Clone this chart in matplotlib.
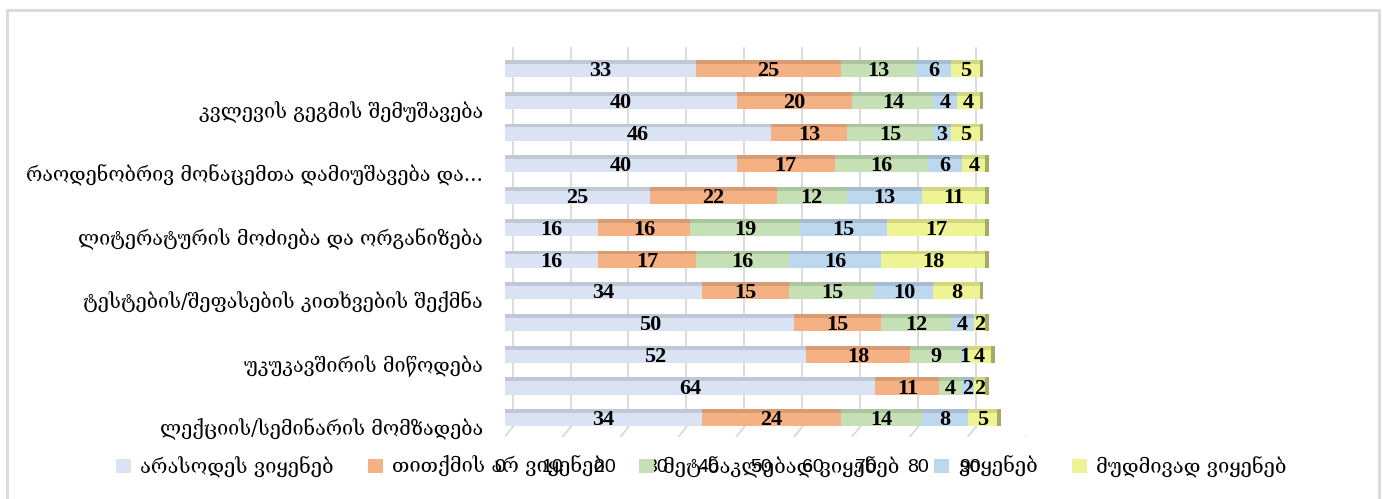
import matplotlib
matplotlib.use("Agg")
import matplotlib.pyplot as plt
import matplotlib.transforms as mtransforms
from matplotlib.patches import Rectangle, Patch
import matplotlib.colors as mcolors
import numpy as np

# categories from top to bottom (Excel only shows every second one)
categories = ["", "კვლევის გეგმის შემუშავება",
              "", "რაოდენობრივ მონაცემთა დამიუშავება და...",
              "", "ლიტერატურის მოძიება და ორგანიზება",
              "", "ტესტების/შეფასების კითხვების შექმნა",
              "", "უკუკავშირის მიწოდება",
              "", "ლექციის/სემინარის მომზადება"]

series_names = ["არასოდეს ვიყენებ", "თითქმის არ ვიყენებ", "მეტ-ნაკლებად ვიყენებ",
                "ვიყენებ", "მუდმივად ვიყენებ"]

never = [33, 40, 46, 40, 25, 16, 16, 34, 50, 52, 64, 34]
almost_never = [25, 20, 13, 17, 22, 16, 17, 15, 15, 18, 11, 24]
sometimes = [13, 14, 15, 16, 12, 19, 16, 15, 12, 9, 4, 14]
use = [6, 4, 3, 6, 13, 15, 16, 10, 4, 1, 2, 8]
always = [5, 4, 5, 4, 11, 17, 18, 8, 2, 4, 2, 5]

x_ticks = [0, 10, 20, 30, 40, 50, 60, 70, 80, 90]

colors = ["#dae3f3", "#f4b183", "#c5e0b4", "#bdd7ee", "#eef393"]

geo_font = ["DejaVu Serif", "DejaVu Sans"]


def darker(c, f):
    r, g, b = mcolors.to_rgb(c)
    return (r * f, g * f, b * f)


W, H = 1383, 499
fig = plt.figure(figsize=(W / 100, H / 100), dpi=100)

# light frame round the chart area
fig.patches.append(Rectangle((7 / W, -0.02), (1379 - 7) / W, 1.0 - 10 / H + 0.02,
                             transform=fig.transFigure, fill=False,
                             edgecolor="#d9d9d9", linewidth=2))

ax = fig.add_axes([505 / W, 1 - 437 / H, 521 / W, 390 / H])
ax.set_xlim(0, 90)
ax.set_ylim(11.567, -0.725)
for s in ax.spines.values():
    s.set_visible(False)

rows = np.arange(len(never))
data = [never, almost_never, sometimes, use, always]

# back wall grid, shifted right to fake the 3D depth
back = ax.transData + mtransforms.ScaledTranslation(7.7 / 100, 0, fig.dpi_scale_trans)
for t in x_ticks:
    ax.plot([t, t], [-0.725, 11.25], color="#d9d9d9", lw=1.3, transform=back, zorder=0)
    ax.plot([t + 1.33, t], [11.25, 11.55], color="#d9d9d9", lw=1.3, zorder=0)

face_h = 0.42
top_h = 0.12
left = np.zeros(len(rows))
for vals, col in zip(data, colors):
    vals = np.array(vals, dtype=float)
    ax.barh(rows + 0.02, vals, left=left, height=face_h, color=col, zorder=2)
    ax.barh(rows - face_h / 2 + 0.02 - top_h / 2, vals, left=left, height=top_h,
            color=darker(col, 0.88), zorder=2)
    for r, v, l in zip(rows, vals, left):
        ax.text(l + v / 2, r + 0.04, f"{int(v)}", ha="center", va="center",
                fontsize=16, fontweight="bold", family="Liberation Serif", zorder=4)
    left = left + vals

# end caps of the bars
ax.barh(rows + 0.02 - top_h / 2, 0.6, left=left, height=face_h + top_h,
        color=darker(colors[-1], 0.7), zorder=3)

# category labels
label_rows = [i for i, c in enumerate(categories) if c]
ax.set_yticks([r + 0.25 for r in label_rows])
ax.set_yticklabels([categories[r] for r in label_rows], fontsize=14.2, family=geo_font)
ax.tick_params(axis="y", length=0, pad=16)
ax.set_xticks([])

# value axis labels (they sit on the legend row, as in the original)
ax2 = fig.add_axes([500 / W, 1 - 459 / H, 470 / W, 0.001])
ax2.set_xlim(0, 90)
ax2.set_xticks(x_ticks)
ax2.set_xticklabels([str(t) for t in x_ticks], fontsize=14, family="Liberation Sans")
ax2.tick_params(axis="x", length=0, pad=0)
ax2.set_yticks([])
ax2.patch.set_visible(False)
for s in ax2.spines.values():
    s.set_visible(False)

handles = [Patch(facecolor=c, edgecolor="none") for c in colors]
fig.legend(handles, series_names, loc="center", bbox_to_anchor=(0.507, 1 - 467 / H),
           ncol=5, frameon=False, handlelength=0.75, handleheight=0.75,
           handletextpad=0.45, columnspacing=1.7, prop={"family": geo_font, "size": 14.5})

fig.savefig("out.png", dpi=100)
